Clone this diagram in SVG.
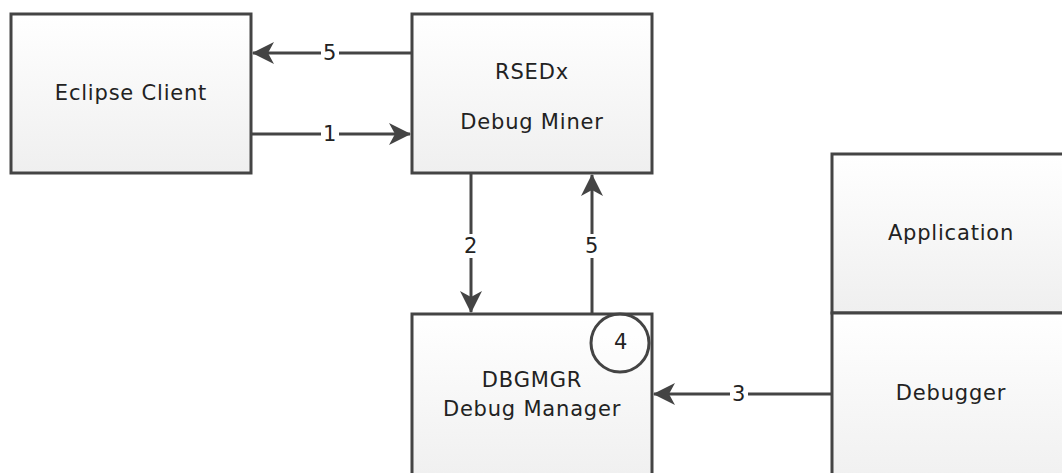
<svg xmlns="http://www.w3.org/2000/svg" width="1062" height="473" viewBox="0 0 1062 473">
<defs>
<linearGradient id="g" x1="0" y1="0" x2="0" y2="1">
<stop offset="0" stop-color="#ffffff"/>
<stop offset="1" stop-color="#efefef"/>
</linearGradient>
<marker id="ah" viewBox="0 0 22 22" refX="21" refY="11" markerWidth="22" markerHeight="22" markerUnits="userSpaceOnUse" orient="auto">
<path d="M0,0 L22,11 L0,22 L6,11 Z" fill="#444"/>
</marker>
<style>
.box{fill:url(#g);stroke:#444;stroke-width:3}
.t{font-family:"DejaVu Sans",sans-serif;font-size:21px;letter-spacing:0.8px;fill:#222;text-anchor:middle;dominant-baseline:central}
.c{stroke:#444;stroke-width:3;fill:none}
.lb{fill:#fff}
</style>
</defs>
<rect width="1062" height="473" fill="#fff"/>
<g id="eclipse">
<rect class="box" x="11" y="14" width="240" height="159"/>
<text class="t" x="131" y="93">Eclipse Client</text>
</g>
<g id="rsedx">
<rect class="box" x="412" y="14" width="240" height="159"/>
<text class="t" x="532" y="72">RSEDx</text>
<text class="t" x="532" y="122">Debug Miner</text>
</g>
<g id="dbgmgr">
<rect class="box" x="412" y="314" width="240" height="170"/>
<text class="t" x="532" y="380">DBGMGR</text>
<text class="t" x="532" y="409">Debug Manager</text>
<circle cx="620" cy="343" r="29" fill="#fff" fill-opacity="0.4" stroke="#444" stroke-width="3"/>
<text class="t" x="621" y="342">4</text>
</g>
<g id="application">
<rect class="box" x="832" y="154" width="250" height="159"/>
<text class="t" x="951" y="233">Application</text>
</g>
<g id="debugger">
<rect class="box" x="832" y="313" width="250" height="180"/>
<text class="t" x="951" y="393">Debugger</text>
</g>
<g id="connectors">
<line class="c" x1="412" y1="53" x2="253" y2="53" marker-end="url(#ah)"/>
<rect class="lb" x="321" y="42" width="18" height="22"/>
<text class="t" x="330" y="53">5</text>
<line class="c" x1="251" y1="134" x2="410" y2="134" marker-end="url(#ah)"/>
<rect class="lb" x="321" y="123" width="18" height="22"/>
<text class="t" x="330" y="134">1</text>
<line class="c" x1="471" y1="173" x2="471" y2="312" marker-end="url(#ah)"/>
<rect class="lb" x="461" y="234" width="20" height="24"/>
<text class="t" x="471" y="246">2</text>
<line class="c" x1="592" y1="314" x2="592" y2="175" marker-end="url(#ah)"/>
<rect class="lb" x="582" y="234" width="20" height="24"/>
<text class="t" x="592" y="246">5</text>
<line class="c" x1="832" y1="394" x2="654" y2="394" marker-end="url(#ah)"/>
<rect class="lb" x="730" y="383" width="18" height="22"/>
<text class="t" x="739" y="394">3</text>
</g>
</svg>
